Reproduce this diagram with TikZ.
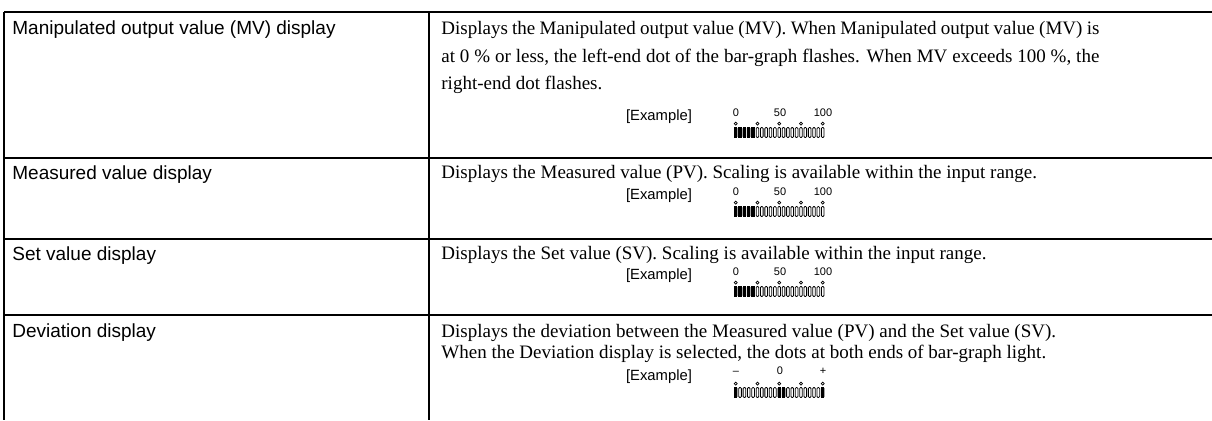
\documentclass[tikz,border=0pt]{standalone}
\usepackage{fontspec}
\setmainfont{Liberation Serif}
\setsansfont{Liberation Sans}
\tikzset{
  rule/.style={line width=0.7pt},
  lefttext/.style={anchor=base west, inner sep=0pt, font=\sffamily\fontsize{9.5}{11}\selectfont},
  righttext/.style={anchor=base west, inner sep=0pt, font=\rmfamily\fontsize{9.5}{11}\selectfont},
  exlabel/.style={anchor=center, inner sep=0pt, font=\sffamily\fontsize{7.4}{8}\selectfont},
  scalelabel/.style={anchor=base, inner sep=0pt, font=\sffamily\fontsize{5.5}{6}\selectfont},
  openbar/.style={draw=black, line width=0.4pt, rounded corners=0.5pt},
  dotc/.style={draw=black, line width=0.35pt}
}
\newcommand{\bgraph}[3]{%
  \foreach \i in {0,...,20} \draw[openbar] ({#1+\i*4.35+0.4},{#2+0.5}) rectangle ++(2.6,10);
  \foreach \i in {#3} \fill[black] ({#1+\i*4.35},#2) rectangle ++(3.4,11);
  \foreach \i in {0,5,10,15,20} \draw[dotc] ({#1+\i*4.35+1.7},{#2-3.4}) circle (0.75pt);
}
\begin{document}
\begin{tikzpicture}[x=0.5pt,y=-0.5pt]
\useasboundingbox (0,0) rectangle (1212,420);
% table rules
\draw[rule] (4,12) -- (1212,12);
\draw[rule] (4,158) -- (1212,158);
\draw[rule] (4,239) -- (1212,239);
\draw[rule] (4,315) -- (1212,315);
\draw[rule] (4,12) -- (4,420);
\draw[rule] (429,12) -- (429,420);
% left column
\node[lefttext] (l1) at (12,34) {Manipulated output value (MV) display};
\node[lefttext] (l2) at (12,179) {Measured value display};
\node[lefttext] (l3) at (12,260) {Set value display};
\node[lefttext] (l4) at (12,337) {Deviation display};
% row 1
\node[righttext] (r1a) at (441,34) {\makebox[329pt][s]{Displays the Manipulated output value (MV). When Manipulated output value (MV) is}};
\node[righttext] (r1b) at (441,62) {\makebox[329pt][s]{at 0 \% or less, the left-end dot of the bar-graph flashes. When MV exceeds 100 \%, the}};
\node[righttext] (r1c) at (441,89) {right-end dot flashes.};
\node[exlabel] (e1) at (659,117) {[Example]};
\bgraph{734}{127}{0,1,2,3,4}
\node[scalelabel] (s1a) at (736,116) {0};
\node[scalelabel] (s1b) at (780,116) {50};
\node[scalelabel] (s1c) at (823,116) {100};
% row 2
\node[righttext] (r2) at (441,178) {Displays the Measured value (PV). Scaling is available within the input range.};
\node[exlabel] (e2) at (659,196) {[Example]};
\bgraph{734}{206}{0,1,2,3,4}
\node[scalelabel] (s2a) at (736,195) {0};
\node[scalelabel] (s2b) at (780,195) {50};
\node[scalelabel] (s2c) at (823,195) {100};
% row 3
\node[righttext] (r3) at (441,259) {Displays the Set value (SV). Scaling is available within the input range.};
\node[exlabel] (e3) at (659,276) {[Example]};
\bgraph{734}{286}{0,1,2,3,4}
\node[scalelabel] (s3a) at (736,275) {0};
\node[scalelabel] (s3b) at (780,275) {50};
\node[scalelabel] (s3c) at (823,275) {100};
% row 4
\node[righttext] (r4a) at (441,337) {Displays the deviation between the Measured value (PV) and the Set value (SV).};
\node[righttext] (r4b) at (441,358) {When the Deviation display is selected, the dots at both ends of bar-graph light.};
\node[exlabel] (e4) at (659,377) {[Example]};
\bgraph{734}{387}{0,10,11,20}
\node[scalelabel] (s4a) at (736,374) {--};
\node[scalelabel] (s4b) at (780,374) {0};
\node[scalelabel] (s4c) at (823,374) {+};
\end{tikzpicture}
\end{document}
